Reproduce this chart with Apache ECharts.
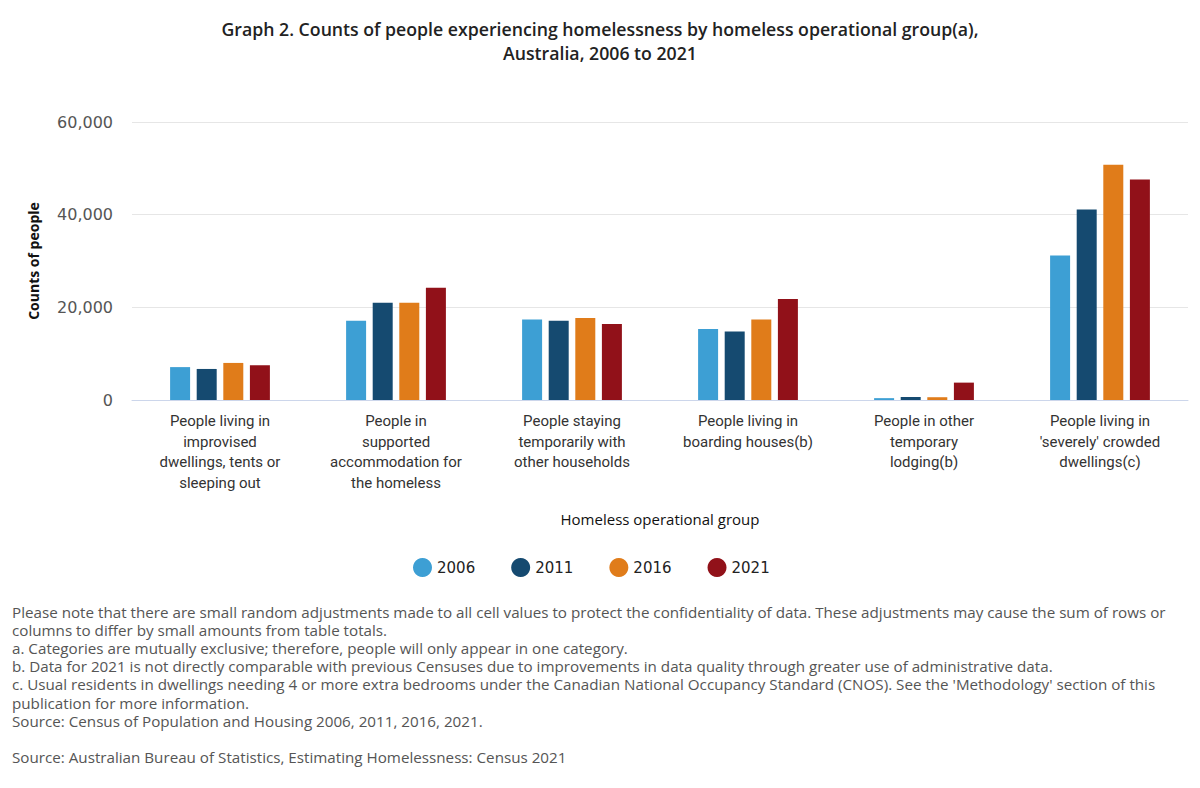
<!DOCTYPE html>
<html>
<head>
<meta charset="utf-8">
<script src="https://cdn.jsdelivr.net/npm/echarts@6/dist/echarts.min.js"></script>
<style>
html,body{margin:0;padding:0;background:#fff;}
#chart{width:1200px;height:788px;}
</style>
</head>
<body>
<div id="chart"></div>
<script>
const categories = [
  "People living in\nimprovised\ndwellings, tents or\nsleeping out",
  "People in\nsupported\naccommodation for\nthe homeless",
  "People staying\ntemporarily with\nother households",
  "People living in\nboarding houses(b)",
  "People in other\ntemporary\nlodging(b)",
  "People living in\n'severely' crowded\ndwellings(c)"
];
const seriesNames = ["2006", "2011", "2016", "2021"];
const values2006 = [7100, 17100, 17400, 15300, 400, 31200];
const values2011 = [6700, 21000, 17100, 14800, 650, 41100];
const values2016 = [8000, 21000, 17700, 17400, 600, 50800];
const values2021 = [7500, 24200, 16400, 21800, 3750, 47600];
const yTicks = [0, 20000, 40000, 60000];
const colors = ["#3d9fd4", "#154a70", "#e07c1a", "#911119"];
const footnotes = [
  "Please note that there are small random adjustments made to all cell values to protect the confidentiality of data. These adjustments may cause the sum of rows or",
  "columns to differ by small amounts from table totals.",
  "a. Categories are mutually exclusive; therefore, people will only appear in one category.",
  "b. Data for 2021 is not directly comparable with previous Censuses due to improvements in data quality through greater use of administrative data.",
  "c. Usual residents in dwellings needing 4 or more extra bedrooms under the Canadian National Occupancy Standard (CNOS). See the 'Methodology' section of this",
  "publication for more information.",
  "Source: Census of Population and Housing 2006, 2011, 2016, 2021.",
  "",
  "Source: Australian Bureau of Statistics, Estimating Homelessness: Census 2021"
];

const allValues = [values2006, values2011, values2016, values2021];
const chart = echarts.init(document.getElementById('chart'), null, {renderer: 'svg'});
const option = {
  backgroundColor: '#fff',
  title: {
    text: "Graph 2. Counts of people experiencing homelessness by homeless operational group(a),\nAustralia, 2006 to 2021",
    left: 'center',
    top: 12,
    textStyle: {
      fontFamily: 'Open Sans',
      fontSize: 17.7,
      fontWeight: 600,
      color: '#222',
      lineHeight: 24
    }
  },
  legend: {
    data: seriesNames,
    left: 408,
    top: 553,
    icon: 'circle',
    itemWidth: 19,
    itemHeight: 19,
    itemGap: 36,
    textStyle: {
      fontFamily: 'DejaVu Sans',
      fontSize: 15,
      color: '#222'
    }
  },
  grid: {left: 132, right: 12, top: 122, bottom: 388, containLabel: false},
  xAxis: {
    type: 'category',
    data: categories,
    name: 'Homeless operational group',
    nameLocation: 'middle',
    nameGap: 111,
    nameTextStyle: {fontFamily: 'Open Sans', fontSize: 15, color: '#111'},
    axisLine: {lineStyle: {color: '#ccd6eb'}},
    axisTick: {show: false},
    axisLabel: {
      interval: 0,
      fontFamily: 'Roboto',
      fontSize: 15,
      lineHeight: 20.5,
      color: '#333',
      margin: 11
    }
  },
  yAxis: {
    type: 'value',
    min: 0,
    max: 60000,
    interval: 20000,
    name: 'Counts of people',
    nameLocation: 'middle',
    nameRotate: 90,
    nameGap: 92,
    nameTextStyle: {fontFamily: 'Open Sans', fontSize: 14, fontWeight: 'bold', color: '#111'},
    axisLine: {show: false},
    axisTick: {show: false},
    splitLine: {lineStyle: {color: '#e6e6e6'}},
    axisLabel: {
      fontFamily: 'DejaVu Sans',
      fontSize: 16,
      color: '#555',
      margin: 19,
      formatter: function (v) { return yTicks.indexOf(v) >= 0 ? v.toLocaleString('en-US') : ''; }
    }
  },
  series: seriesNames.map(function (name, i) {
    return {
      name: name,
      type: 'bar',
      data: allValues[i],
      barWidth: 20,
      barGap: '33%',
      itemStyle: {color: colors[i]},
      emphasis: {disabled: true}
    };
  }),
  graphic: [{
    type: 'text',
    left: 12,
    top: 603,
    style: {
      text: footnotes.join('\n'),
      fontFamily: 'Open Sans',
      fontSize: 15.2,
      lineHeight: 18.1,
      fill: '#555'
    }
  }]
};
chart.setOption(option);
</script>
</body>
</html>
